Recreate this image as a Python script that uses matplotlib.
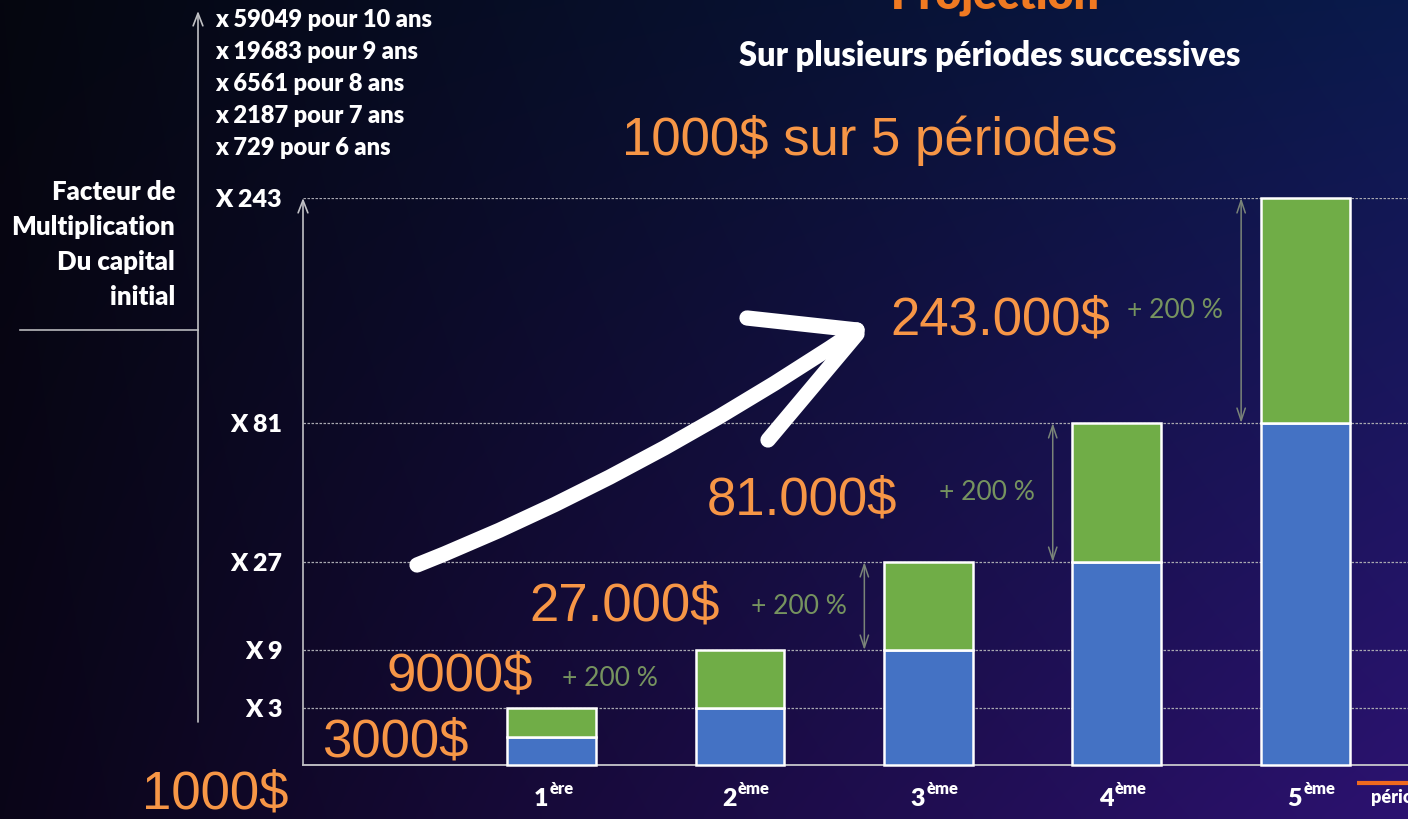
"""Slide figure: capital multiplied x3 per period over 5 periods."""

import matplotlib

matplotlib.use("Agg")
import matplotlib.pyplot as plt
import numpy as np
from matplotlib.patches import PathPatch
from matplotlib.path import Path

W, H = 1408, 819

PERIODS = ["1", "2", "3", "4", "5"]
SUFFIXES = ["ère", "ème", "ème", "ème", "ème"]
CAPITAL_START = [1, 3, 9, 27, 81]
CAPITAL_END = [3, 9, 27, 81, 243]
Y_TICKS = [3, 9, 27, 81, 243]
Y_TICK_LABELS = ["X 3", "X 9", "X 27", "X 81", "X 243"]
AMOUNTS = ["1000$", "3000$", "9000$", "27.000$", "81.000$", "243.000$"]
GAIN = "+ 200 %"
LONG_TERM = [
    "x 59049 pour 10 ans",
    "x 19683 pour 9 ans",
    "x 6561 pour 8 ans",
    "x 2187 pour 7 ans",
    "x 729 pour 6 ans",
]
Y_TITLE = ["Facteur de", "Multiplication", "Du capital", "initial"]

# breakpoints of the slide's hand-drawn (non-linear) vertical axis
SCALE_MULT = [0, 1, 3, 9, 27, 81, 243]
SCALE_POS = [0, 28, 57, 115, 203, 342, 567]

BLUE = "#4472c4"
GREEN = "#70ad47"
ORANGE = "#f79646"
GAIN_COLOR = "#76935f"
BOLD = ["Lato", "DejaVu Sans"]
HEAVY = "heavy"


def fwd(v):
    return np.interp(v, SCALE_MULT, SCALE_POS)


def inv(v):
    return np.interp(v, SCALE_POS, SCALE_MULT)


fig = plt.figure(figsize=(W / 100, H / 100), dpi=100)

# background gradient
bg = fig.add_axes([0, 0, 1, 1])
corners = np.array([
    [[5, 6, 15], [10, 26, 76]],
    [[10, 5, 24], [44, 18, 112]],
]) / 255.0
u = np.linspace(0, 1, 200)[None, :, None]
v = np.linspace(0, 1, 120)[:, None, None]
top = corners[0, 0] * (1 - u) + corners[0, 1] * u
bot = corners[1, 0] * (1 - u) + corners[1, 1] * u
grad = top * (1 - v) + bot * v
bg.imshow(grad, extent=[0, W, H, 0], aspect="auto", interpolation="bilinear")
bg.set_xlim(0, W)
bg.set_ylim(H, 0)
bg.axis("off")

# chart
ax = fig.add_axes([303 / W, (H - 765) / H, (W - 303) / W, 567 / H])
ax.patch.set_alpha(0)
ax.set_yscale("function", functions=(fwd, inv))
ax.set_ylim(0, 243)
xmin = -1.3195
ax.set_xlim(xmin, xmin + 1105 / 188.4)
x = np.arange(len(PERIODS))
start = np.array(CAPITAL_START, dtype=float)
end = np.array(CAPITAL_END, dtype=float)
width = 0.472
ax.bar(x, start, width, color=BLUE, edgecolor="white", linewidth=1.8, clip_on=False, zorder=3)
ax.bar(x, end - start, width, bottom=start, color=GREEN, edgecolor="white", linewidth=1.8,
       clip_on=False, zorder=3)

ax.set_yticks(Y_TICKS, Y_TICK_LABELS)
ax.set_xticks([])
ax.tick_params(axis="y", length=0, pad=15, labelcolor="white", labelsize=18)
for lab in ax.get_yticklabels():
    lab.set_fontweight(HEAVY)
    lab.set_family(BOLD)
ax.yaxis.grid(True, linestyle=(0, (2, 1.2)), color="#a8a8b0", linewidth=0.9)
ax.set_axisbelow(True)
for side in ("top", "right", "left"):
    ax.spines[side].set_visible(False)
ax.spines["bottom"].set_color("#c8c8cc")
ax.spines["bottom"].set_linewidth(1.3)
ax.annotate("", xy=(0, 1.0), xytext=(0, 0), xycoords="axes fraction",
            arrowprops=dict(arrowstyle="->,head_length=0.9,head_width=0.35", color="#c0c0c4",
                            lw=1.2, shrinkA=0, shrinkB=0), annotation_clip=False)

# +200 % gains
for i in range(1, len(PERIODS)):
    mid = inv((fwd(start[i]) + fwd(end[i])) / 2)
    ax.text(x[i] - 0.435, mid, GAIN, color=GAIN_COLOR, fontsize=19, ha="right", va="center",
            family=["Lato", "DejaVu Sans"])
    if i >= 2:
        ax.annotate("", xy=(x[i] - 0.34, end[i]), xytext=(x[i] - 0.34, start[i]),
                    arrowprops=dict(arrowstyle="<->,head_length=0.9,head_width=0.3",
                                    color="#7a8478", lw=1.1, shrinkA=0, shrinkB=0),
                    annotation_clip=False)

# period labels
for i, (num, suf) in enumerate(zip(PERIODS, SUFFIXES)):
    ax.annotate(num, xy=(x[i], 0), xycoords=("data", "axes fraction"), xytext=(-3, -41),
                textcoords="offset pixels", ha="right", va="baseline", color="white",
                fontsize=18, fontweight=HEAVY, family=BOLD, annotation_clip=False)
    ax.annotate(suf, xy=(x[i], 0), xycoords=("data", "axes fraction"), xytext=(-2, -29),
                textcoords="offset pixels", ha="left", va="baseline", color="white",
                fontsize=12, fontweight=HEAVY, family=BOLD, annotation_clip=False)

# overlay annotations in slide pixels
ov = fig.add_axes([0, 0, 1, 1])
ov.set_xlim(0, W)
ov.set_ylim(H, 0)
ov.axis("off")
ov.patch.set_alpha(0)

ov.text(995, 8, "Projection", color="#f07a22", fontsize=32, fontweight=HEAVY, ha="center",
        va="baseline", family=BOLD)
ov.text(990, 56, "Sur plusieurs périodes successives", color="white", fontsize=23.5,
        fontweight=HEAVY, ha="center", va="center", family=BOLD)
ov.text(870, 140, "1000$ sur 5 périodes", color=ORANGE, fontsize=38, ha="center", va="center",
        family="Liberation Sans")

for j, line in enumerate(LONG_TERM):
    ov.text(215, 20 + 32 * j, line, color="white", fontsize=17, fontweight=HEAVY,
            ha="left", va="center", family=BOLD)
for j, line in enumerate(Y_TITLE):
    ov.text(175, 192 + 35 * j, line, color="white", fontsize=18.5, fontweight=HEAVY,
            ha="right", va="center", family=BOLD)
ov.plot([20, 198], [330, 330], color="#b8b8bc", lw=1.2)
ov.annotate("", xy=(198, 11), xytext=(198, 722),
            arrowprops=dict(arrowstyle="->,head_length=0.9,head_width=0.35", color="#c0c0c4",
                            lw=1.2, shrinkA=0, shrinkB=0))

amount_xy = [(215, 795), (395, 743), (460, 677), (625, 607), (802, 500), (1000, 320)]
for (ax_, ay), label in zip(amount_xy, AMOUNTS):
    ov.text(ax_, ay, label, color=ORANGE, fontsize=38, ha="center", va="center",
            family="Liberation Sans")

# hand-drawn white arrow
curve = Path([(417, 565), (637, 478), (857, 330)], [Path.MOVETO, Path.CURVE3, Path.CURVE3])
ov.add_patch(PathPatch(curve, fill=False, edgecolor="white", lw=11, capstyle="round",
                       joinstyle="round"))
ov.plot([747, 857], [318, 330], color="white", lw=11, solid_capstyle="round")
ov.plot([768, 857], [440, 334], color="white", lw=11, solid_capstyle="round")

# cut-off "périodes" legend bottom right
ov.plot([1357, W], [783, 783], color="#f06a1e", lw=3, solid_capstyle="butt")
ov.text(1371, 797, "périodes", color="white", fontsize=13, fontweight=HEAVY, ha="left",
        va="center", family=BOLD)

fig.savefig("out.png", dpi=100)
